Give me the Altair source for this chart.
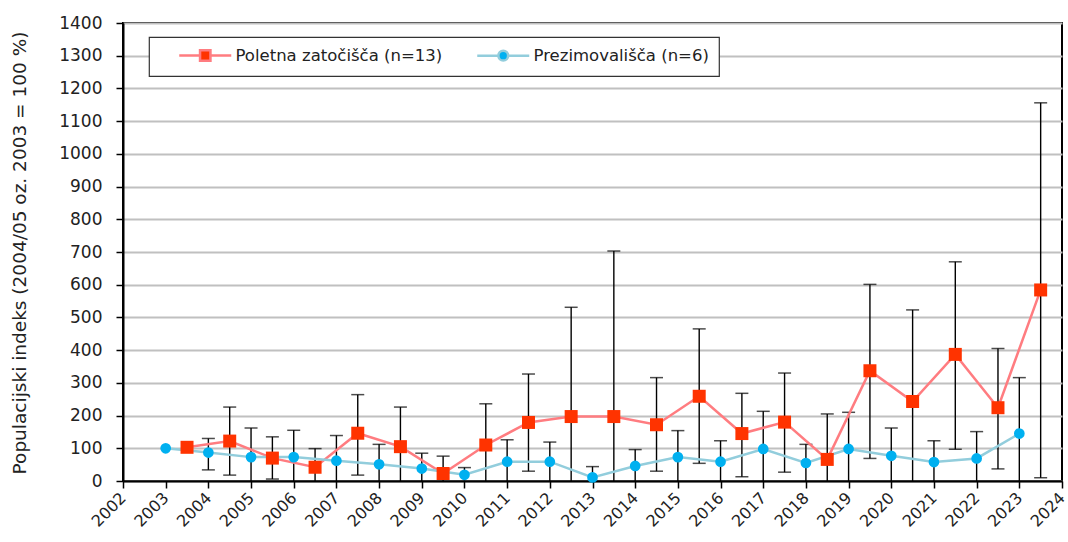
import altair as alt
import pandas as pd

# Summer roosts (plotted mid-season) and hibernation sites (plotted on the year)
summer_x = [2003.5, 2004.5, 2005.5, 2006.5, 2007.5, 2008.5, 2009.5, 2010.5, 2011.5, 2012.5,
            2013.5, 2014.5, 2015.5, 2016.5, 2017.5, 2018.5, 2019.5, 2020.5, 2021.5, 2022.5, 2023.5]
summer_idx = [103, 122, 70, 42, 146, 105, 23, 110, 179, 197, 197, 172, 259, 145, 180, 66,
              337, 243, 387, 224, 584]
summer_hi = [None, 226, 135, 99, 264, 226, 76, 236, 327, 531, 703, 316, 465, 268, 330, 205,
             601, 523, 670, 405, 1156]
summer_lo = [None, 18, 6, 0, 18, 0, 0, 0, 30, 0, 0, 30, 54, 13, 27, 0, 69, 0, 97, 37, 10]

winter_x = [2003, 2004, 2005, 2006, 2007, 2008, 2009, 2010, 2011, 2012, 2013, 2014, 2015,
            2016, 2017, 2018, 2019, 2020, 2021, 2022, 2023]
winter_idx = [100, 87, 73, 73, 62, 51, 38, 19, 59, 59, 11, 46, 73, 59, 98, 55, 98, 77, 58, 69, 145]
winter_hi = [None, 130, 162, 155, 139, 112, 85, 41, 126, 119, 44, 96, 154, 123, 213, 112,
             210, 162, 123, 151, 316]
winter_lo = [None, 34, 0, 0, 0, 0, 0, 0, 0, 0, 0, 0, 0, 0, 0, 0, 0, 0, 0, 0, 0]

series_names = ["Poletna zatočišča (n=13)", "Prezimovališča (n=6)"]
line_colors = ["#FF7C80", "#92CDDC"]
marker_colors = ["#FF3300", "#00B0F0"]
year_ticks = list(range(2002, 2025))
y_ticks = list(range(0, 1401, 100))

summer = pd.DataFrame({"x": summer_x, "value": summer_idx, "hi": summer_hi, "lo": summer_lo,
                       "series": series_names[0]})
winter = pd.DataFrame({"x": winter_x, "value": winter_idx, "hi": winter_hi, "lo": winter_lo,
                       "series": series_names[1]})
df = pd.concat([summer, winter], ignore_index=True)

FONT = "DejaVu Sans"
TXT = "#222222"

x_enc = alt.X(
    "x:Q",
    scale=alt.Scale(domain=[2002, 2024], nice=False, zero=False),
    axis=alt.Axis(values=year_ticks, format="d", labelAngle=-45, labelAlign="right",
                  labelBaseline="middle", labelPadding=7, labelFontSize=16, labelFont=FONT,
                  labelColor=TXT, tickSize=7, tickColor="black", tickWidth=1.5,
                  domainColor="black", domainWidth=2, grid=False, title=None,
                  labelOverlap=False),
)
y_scale = alt.Scale(domain=[0, 1400], nice=False)
y_axis = alt.Axis(values=y_ticks, format="d", labelFontSize=17, labelFont=FONT,
                  labelColor=TXT, labelPadding=14, tickSize=7, tickColor="black",
                  tickWidth=1.5, domainColor="black", domainWidth=2, grid=True,
                  gridColor="#C0C0C0", gridWidth=2,
                  title="Populacijski indeks (2004/05 oz. 2003 = 100 %)",
                  titleFont=FONT, titleFontSize=18.5, titleFontWeight="normal", titleColor=TXT,
                  titleX=-104, titleY=229.5, titleAngle=-90, titleBaseline="middle",
                  titleAlign="center", labelOverlap=False)


def y_of(field):
    return alt.Y(field, scale=y_scale, axis=y_axis)


base = alt.Chart(df)

err_rule = base.transform_filter("isValid(datum.hi)").mark_rule(
    color="black", strokeWidth=1.4).encode(x=x_enc, y=y_of("lo:Q"), y2="hi:Q")
cap_hi = base.transform_filter("isValid(datum.hi)").mark_tick(
    color="black", orient="horizontal", size=13, thickness=1.5).encode(
    x=x_enc, y=y_of("hi:Q"))
cap_lo = base.transform_filter("isValid(datum.lo) && datum.lo > 0").mark_tick(
    color="black", orient="horizontal", size=13, thickness=1.5).encode(
    x=x_enc, y=y_of("lo:Q"))

layers = [err_rule, cap_hi, cap_lo]
shapes = ["square", "circle"]
sizes = [169, 115]
for name, lc in zip(series_names, line_colors):
    layers.append(alt.Chart(df[df.series == name]).mark_line(
        color=lc, strokeWidth=2.5).encode(x=x_enc, y=y_of("value:Q")))
for name, mc, shp, sz in zip(series_names, marker_colors, shapes, sizes):
    layers.append(alt.Chart(df[df.series == name]).mark_point(
        shape=shp, filled=True, fill=mc, size=sz, opacity=1, strokeWidth=0).encode(
        x=x_enc, y=y_of("value:Q")))

# legend symbols: a line segment with the series marker in the middle
sym_square = "M-4,0L-0.8,0M0.8,0L4,0M-0.8,-0.8L0.8,-0.8L0.8,0.8L-0.8,0.8Z"
sym_circle = ("M-4,0L-0.75,0M0.75,0L4,0M-0.75,0A0.75,0.75 0 1,0 0.75,0"
              "A0.75,0.75 0 1,0 -0.75,0Z")
legend = alt.Legend(title=None)
key = alt.Chart(df).transform_filter("false").mark_point(
    filled=True, size=169, strokeWidth=2.5, opacity=1).encode(
    shape=alt.Shape("series:N", scale=alt.Scale(domain=series_names,
                                                 range=[sym_square, sym_circle]),
                    legend=legend),
    fill=alt.Fill("series:N", scale=alt.Scale(domain=series_names, range=marker_colors),
                  legend=legend),
    stroke=alt.Stroke("series:N", scale=alt.Scale(domain=series_names, range=line_colors),
                      legend=legend),
)
layers.append(key)

chart = alt.layer(*layers).properties(
    width=939, height=458,
    autosize=alt.AutoSizeParams(type="none"),
    padding={"left": 123, "top": 23, "right": 6, "bottom": 61},
    background="white",
).configure_view(stroke="black", strokeWidth=2).configure_legend(
    orient="none", legendX=26, legendY=14, direction="horizontal",
    strokeColor="#333333", strokeWidth=1.2, fillColor="white", padding=10,
    symbolSize=169, symbolStrokeWidth=2.5, symbolOffset=38, labelOffset=22,
    labelFont=FONT, labelFontSize=16.5, labelColor=TXT, columnPadding=14, labelLimit=0,
)

chart.save("out.html", embed_options={"renderer": "svg", "actions": False})
